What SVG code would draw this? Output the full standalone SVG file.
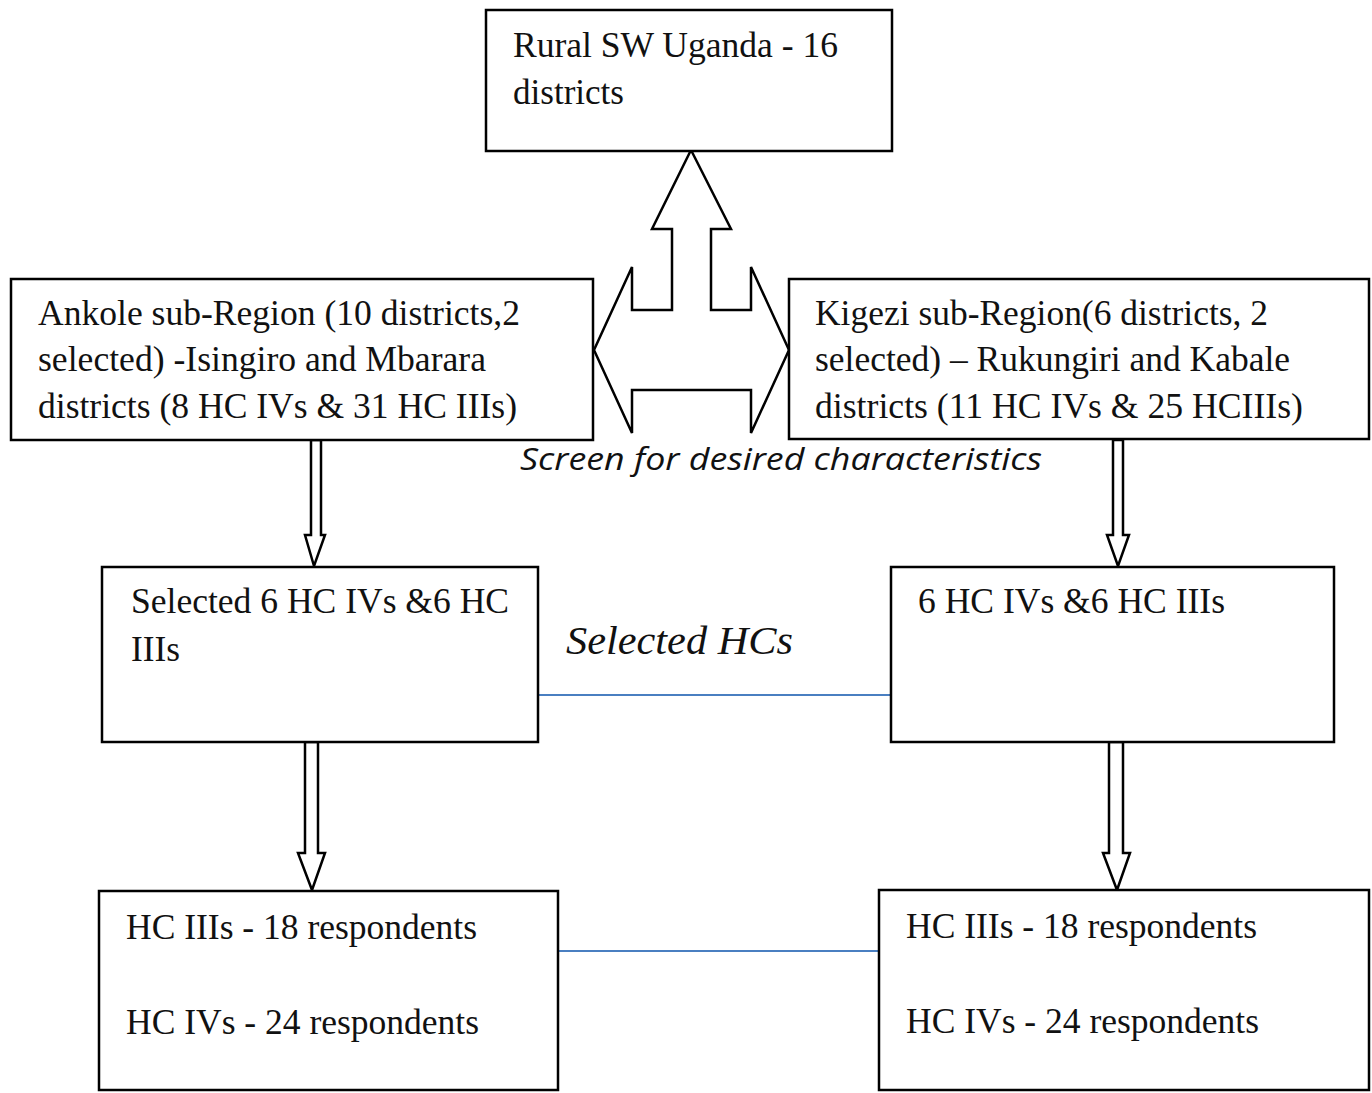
<svg xmlns="http://www.w3.org/2000/svg" width="1372" height="1093" viewBox="0 0 1372 1093">
<style>
.box{fill:#fff;stroke:#000;stroke-width:2.5}
.t{font-family:"Liberation Serif","Times New Roman",serif;font-size:35px;fill:#111}
.arrow{fill:#fff;stroke:#000;stroke-width:2.5;stroke-linejoin:miter}
.link{stroke:#4a7fc1;stroke-width:2;fill:none}
</style>
<rect width="1372" height="1093" fill="#fff"/>
<g id="connectors">
<polygon class="arrow" points="691,150 731,229 711,229 711,310 751,310 751,267 789,350 751,433 751,390 632,390 632,433 594,350 632,267 632,310 672,310 672,229 652,229"/>
<polygon class="arrow" points="311,440 321,440 321,535 325,535 314,566 305,535 311,535"/>
<polygon class="arrow" points="305,742 318,742 318,853 325,853 312,890 298,853 305,853"/>
<polygon class="arrow" points="1113,440 1123,440 1123,535 1129,535 1118,566 1107,535 1113,535"/>
<polygon class="arrow" points="1109,742 1123,742 1123,853 1130,853 1117,890 1103,853 1109,853"/>
<line class="link" x1="538" y1="695" x2="891" y2="695"/>
<line class="link" x1="558" y1="951" x2="879" y2="951"/>
</g>
<g id="top">
<rect class="box" x="486" y="10" width="406" height="141"/>
<text class="t" x="513" y="57" textLength="325" lengthAdjust="spacingAndGlyphs">Rural SW Uganda - 16</text>
<text class="t" x="513" y="104" textLength="111" lengthAdjust="spacingAndGlyphs">districts</text>
</g>
<g id="ankole">
<rect class="box" x="11" y="279" width="582" height="161"/>
<text class="t" x="38" y="325" textLength="482" lengthAdjust="spacingAndGlyphs">Ankole sub-Region (10 districts,2</text>
<text class="t" x="38" y="371" textLength="448" lengthAdjust="spacingAndGlyphs">selected) -Isingiro and Mbarara</text>
<text class="t" x="38" y="418" textLength="479" lengthAdjust="spacingAndGlyphs">districts (8 HC IVs &amp; 31 HC IIIs)</text>
</g>
<g id="kigezi">
<rect class="box" x="789" y="279" width="580" height="160"/>
<text class="t" x="815" y="325" textLength="453" lengthAdjust="spacingAndGlyphs">Kigezi sub-Region(6 districts, 2</text>
<text class="t" x="815" y="371" textLength="475" lengthAdjust="spacingAndGlyphs">selected) – Rukungiri and Kabale</text>
<text class="t" x="815" y="418" textLength="488" lengthAdjust="spacingAndGlyphs">districts (11 HC IVs &amp; 25 HCIIIs)</text>
</g>
<g id="screen-label">
<text x="520" y="470" font-family="'Open Sans','Liberation Sans',sans-serif" font-style="italic" font-size="31" fill="#111" textLength="522" lengthAdjust="spacingAndGlyphs">Screen for desired characteristics</text>
</g>
<g id="selected-left">
<rect class="box" x="102" y="567" width="436" height="175"/>
<text class="t" x="131" y="613" textLength="378" lengthAdjust="spacingAndGlyphs">Selected 6 HC IVs &amp;6 HC</text>
<text class="t" x="131" y="661" textLength="49" lengthAdjust="spacingAndGlyphs">IIIs</text>
</g>
<g id="selected-label">
<text x="566" y="654" font-family="'Liberation Serif','Times New Roman',serif" font-style="italic" font-size="40" fill="#111" textLength="227" lengthAdjust="spacingAndGlyphs">Selected HCs</text>
</g>
<g id="selected-right">
<rect class="box" x="891" y="567" width="443" height="175"/>
<text class="t" x="918" y="613" textLength="307" lengthAdjust="spacingAndGlyphs">6 HC IVs &amp;6 HC IIIs</text>
</g>
<g id="resp-left">
<rect class="box" x="99" y="891" width="459" height="199"/>
<text class="t" x="126" y="939" textLength="351" lengthAdjust="spacingAndGlyphs">HC IIIs - 18 respondents</text>
<text class="t" x="126" y="1034" textLength="353" lengthAdjust="spacingAndGlyphs">HC IVs - 24 respondents</text>
</g>
<g id="resp-right">
<rect class="box" x="879" y="890" width="490" height="200"/>
<text class="t" x="906" y="938" textLength="351" lengthAdjust="spacingAndGlyphs">HC IIIs - 18 respondents</text>
<text class="t" x="906" y="1033" textLength="353" lengthAdjust="spacingAndGlyphs">HC IVs - 24 respondents</text>
</g>
</svg>
